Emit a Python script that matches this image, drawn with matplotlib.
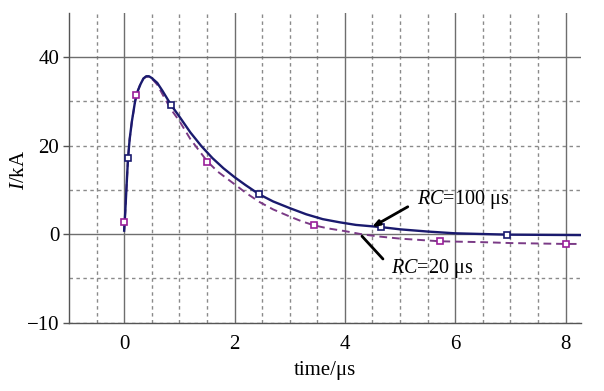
import matplotlib
matplotlib.use("Agg")
import matplotlib.pyplot as plt

plt.rcParams['font.family'] = ['Liberation Serif', 'DejaVu Serif']
plt.rcParams['mathtext.fontset'] = 'custom'
plt.rcParams['mathtext.rm'] = 'Liberation Serif'
plt.rcParams['mathtext.it'] = 'Liberation Serif:italic'

# RC = 100 us curve (solid)
t_100 = [0, 0.02, 0.04, 0.07, 0.1, 0.14, 0.2, 0.25, 0.3, 0.35, 0.4, 0.45, 0.5, 0.6, 0.7,
         0.85, 1.0, 1.2, 1.4, 1.6, 1.8, 2.0, 2.2, 2.45, 2.7, 3.0, 3.3, 3.6, 3.9, 4.2,
         4.66, 5.0, 5.5, 6.0, 6.94, 8.28]
I_100 = [0.8, 5, 10, 17.2, 21.5, 25.5, 30.2, 32.5, 34.0, 35.2, 35.7, 35.7, 35.3, 34.2, 32.3,
         29.2, 26.6, 23.0, 19.9, 17.2, 14.9, 12.9, 11.1, 9.0, 7.4, 5.9, 4.5, 3.4, 2.7, 2.1,
         1.6, 1.1, 0.6, 0.2, -0.1, -0.2]
mk_t_100 = [0.07, 0.85, 2.45, 4.66, 6.94]
mk_I_100 = [17.2, 29.2, 9.0, 1.6, -0.1]

# RC = 20 us curve (dashed)
t_20 = [0, 0.02, 0.04, 0.07, 0.1, 0.14, 0.22, 0.3, 0.35, 0.4, 0.45, 0.5, 0.6, 0.7, 0.85,
        1.0, 1.2, 1.4, 1.51, 1.7, 2.0, 2.2, 2.45, 2.7, 3.0, 3.2, 3.44, 3.7, 4.0, 4.3,
        4.6, 5.0, 5.72, 6.5, 7.0, 8.0, 8.28]
I_20 = [1.0, 5, 10, 17, 21.5, 25.5, 31.4, 34.2, 35.2, 35.6, 35.6, 35.2, 33.8, 31.5, 28.2,
        25.6, 21.5, 18.2, 16.4, 14.1, 11.3, 9.4, 7.3, 5.6, 4.0, 3.0, 2.0, 1.3, 0.7, 0.0,
        -0.5, -1.0, -1.6, -1.8, -2.0, -2.2, -2.2]
mk_t_20 = [0, 0.22, 1.51, 3.44, 5.72, 8.0]
mk_I_20 = [2.8, 31.4, 16.4, 2.0, -1.6, -2.2]

x_major = [0, 2, 4, 6, 8]
x_minor = [-0.5, 0.5, 1, 1.5, 2.5, 3, 3.5, 4.5, 5, 5.5, 6.5, 7, 7.5]
y_ticks = [-20, 0, 20, 40]
y_labels = ['\u221210', '0', '20', '40']
y_solid = [0, 40]
y_minor = [-10, 10, 30]

fig = plt.figure(figsize=(6.04, 3.91), dpi=100)
ax = fig.add_axes([0.1142, 0.1747, 0.962 - 0.1142, 0.9668 - 0.1747])

ax.set_xlim(-1, 8.28)
ax.set_ylim(-20, 50)

ax.set_xticks(x_major)
ax.set_xticks(x_minor, minor=True)
ax.set_yticks(y_ticks)
ax.set_yticklabels(y_labels)
ax.set_yticks(y_minor, minor=True)

grid_col = '#8a8a8a'
solid_col = '#6e6e6e'
dash = (0, (2.5, 2.5))
ax.grid(True, which='major', axis='x', color=solid_col, lw=1.0, ls='-')
ax.grid(True, which='minor', axis='x', color=grid_col, lw=1.0, ls=dash)
ax.grid(True, which='major', axis='y', color=grid_col, lw=1.0, ls=dash)
ax.grid(True, which='minor', axis='y', color=grid_col, lw=1.0, ls=dash)
for tick in ax.yaxis.get_major_ticks():
    if tick.get_loc() in y_solid:
        tick.gridline.set_linestyle('-')
        tick.gridline.set_color(solid_col)
ax.set_axisbelow(True)

ax.tick_params(axis='x', which='both', length=0, pad=9, labelsize=15)
ax.tick_params(axis='y', which='major', length=4, width=1, color='#555555', pad=3, labelsize=15)
ax.tick_params(axis='y', which='minor', length=0)

for s in ['top', 'right']:
    ax.spines[s].set_visible(False)
for s in ['left', 'bottom']:
    ax.spines[s].set_color('#555555')
    ax.spines[s].set_linewidth(1.0)

navy = '#1a1a6e'
purple = '#7a3a86'
ax.plot(t_20, I_20, color=purple, lw=1.4, ls=(0, (4, 2.5)), zorder=3)
ax.plot(t_100, I_100, color=navy, lw=1.7, ls='-', zorder=4)
ax.plot(mk_t_20, mk_I_20, ls='none', marker='s', ms=3.8, mfc='white', mec='#9a1f9a', mew=1.2, zorder=5)
ax.plot(mk_t_100, mk_I_100, ls='none', marker='s', ms=3.8, mfc='white', mec=navy, mew=1.2, zorder=5)

ax.annotate('', xy=(4.49, 1.6), xytext=(5.14, 6.2),
            arrowprops=dict(arrowstyle='-|>,head_length=0.4,head_width=0.15', color='black', lw=2.0,
                            shrinkA=0, shrinkB=0), zorder=6)
ax.annotate('', xy=(4.31, -0.45), xytext=(4.69, -5.6),
            arrowprops=dict(arrowstyle='-', color='black', lw=2.0, shrinkA=0, shrinkB=0), zorder=6)
ax.text(5.3, 7.9, '$RC$=100 \u03bcs', fontsize=14.5, va='center', ha='left')
ax.text(4.83, -7.7, '$RC$=20 \u03bcs', fontsize=14.5, va='center', ha='left')

ax.set_xlabel('time/\u03bcs', fontsize=15, labelpad=5)
ax.set_ylabel('$I$/kA', fontsize=15)
ax.yaxis.set_label_coords(-0.078, 0.493)

fig.savefig('out.png', dpi=100)
